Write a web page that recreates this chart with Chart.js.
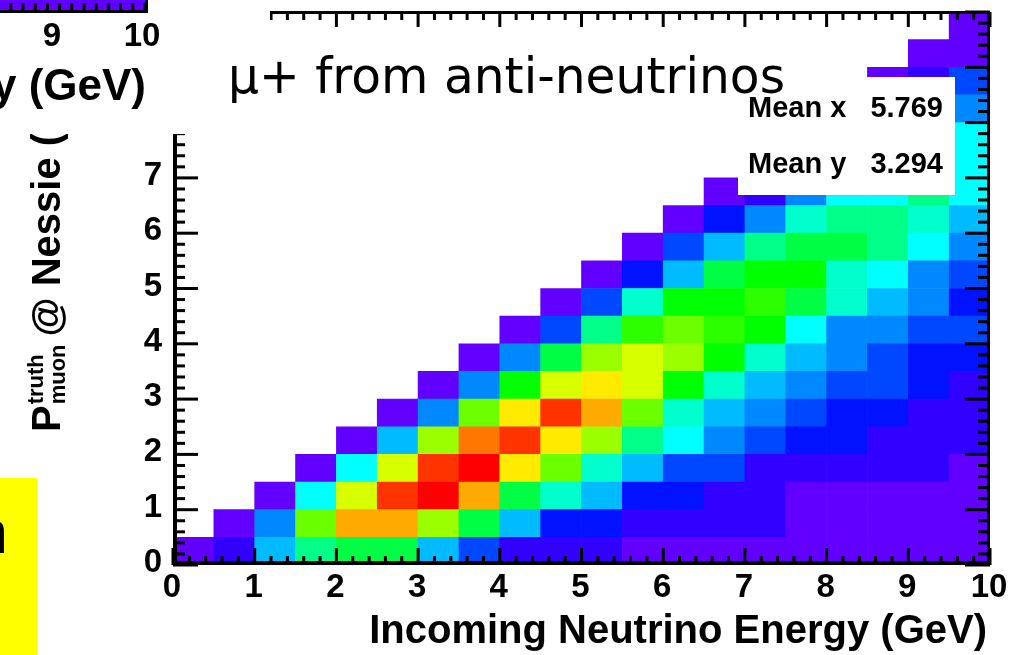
<!DOCTYPE html>
<html>
<head>
<meta charset="utf-8">
<title>P muon vs incoming neutrino energy</title>
<script src="https://cdn.jsdelivr.net/npm/chart.js@4.4.1/dist/chart.umd.min.js"></script>
<style>
  html, body { margin: 0; padding: 0; background: #fff; }
  #wrap { position: relative; width: 1023px; height: 655px; }
</style>
</head>
<body>
<div id="wrap"><canvas id="hist" width="1023" height="655"></canvas></div>
<script>
// bin lower edges, 0.5 GeV bins on both axes
const energyBins   = [0, 0.5, 1, 1.5, 2, 2.5, 3, 3.5, 4, 4.5, 5, 5.5, 6, 6.5, 7, 7.5, 8, 8.5, 9, 9.5];
const momentumBins = [0, 0.5, 1, 1.5, 2, 2.5, 3, 3.5, 4, 4.5, 5, 5.5, 6, 6.5, 7, 7.5, 8, 8.5, 9, 9.5];
const binWidth = 0.5;

// entries per energy bin, one array per muon momentum bin (arbitrary units)
const p0_0 = [1, 2, 6, 9, 10, 10, 6, 4, 2, 2, 2, 1, 1, 1, 1, 1, 1, 1, 1, 1];
const p0_5 = [0, 1, 5, 13, 17, 17, 14, 10, 6, 3, 3, 2, 2, 2, 2, 1, 1, 1, 1, 1];
const p1_0 = [0, 0, 1, 7, 15, 19, 20, 17, 10, 8, 6, 3, 3, 2, 2, 1, 1, 1, 1, 1];
const p1_5 = [0, 0, 0, 1, 7, 15, 19, 20, 16, 13, 8, 6, 4, 4, 2, 2, 2, 2, 2, 1];
const p2_0 = [0, 0, 0, 0, 1, 6, 14, 18, 19, 16, 14, 9, 7, 5, 4, 3, 3, 2, 2, 2];
const p2_5 = [0, 0, 0, 0, 0, 1, 5, 13, 16, 19, 17, 13, 8, 6, 5, 4, 3, 3, 2, 2];
const p3_0 = [0, 0, 0, 0, 0, 0, 1, 5, 11, 15, 16, 15, 11, 8, 6, 5, 4, 4, 3, 2];
const p3_5 = [0, 0, 0, 0, 0, 0, 0, 1, 5, 10, 14, 15, 14, 11, 8, 6, 5, 4, 3, 3];
const p4_0 = [0, 0, 0, 0, 0, 0, 0, 0, 1, 4, 9, 12, 13, 12, 11, 7, 5, 5, 4, 4];
const p4_5 = [0, 0, 0, 0, 0, 0, 0, 0, 0, 1, 4, 8, 11, 11, 12, 10, 8, 6, 5, 3];
const p5_0 = [0, 0, 0, 0, 0, 0, 0, 0, 0, 0, 1, 3, 6, 10, 11, 11, 8, 7, 5, 4];
const p5_5 = [0, 0, 0, 0, 0, 0, 0, 0, 0, 0, 0, 1, 4, 6, 9, 10, 10, 9, 7, 5];
const p6_0 = [0, 0, 0, 0, 0, 0, 0, 0, 0, 0, 0, 0, 1, 3, 5, 8, 9, 9, 8, 6];
const p6_5 = [0, 0, 0, 0, 0, 0, 0, 0, 0, 0, 0, 0, 0, 1, 2, 5, 7, 7, 9, 7];
const p7_0 = [0, 0, 0, 0, 0, 0, 0, 0, 0, 0, 0, 0, 0, 0, 1, 3, 5, 6, 7, 7];
const p7_5 = [0, 0, 0, 0, 0, 0, 0, 0, 0, 0, 0, 0, 0, 0, 0, 1, 3, 5, 6, 7];
const p8_0 = [0, 0, 0, 0, 0, 0, 0, 0, 0, 0, 0, 0, 0, 0, 0, 0, 1, 2, 4, 5];
const p8_5 = [0, 0, 0, 0, 0, 0, 0, 0, 0, 0, 0, 0, 0, 0, 0, 0, 0, 1, 2, 4];
const p9_0 = [0, 0, 0, 0, 0, 0, 0, 0, 0, 0, 0, 0, 0, 0, 0, 0, 0, 0, 1, 1];
const p9_5 = [0, 0, 0, 0, 0, 0, 0, 0, 0, 0, 0, 0, 0, 0, 0, 0, 0, 0, 0, 1];

// small profile markers near threshold
const markerE = [0.48, 0.56, 0.63, 0.69, 0.77, 0.84, 0.90];
const markerP = [0.25, 0.14, 0.25, 0.31, 0.33, 0.40, 0.42];

const xTickValues = [0, 1, 2, 3, 4, 5, 6, 7, 8, 9, 10];
const xTickLabels = ['0', '1', '2', '3', '4', '5', '6', '7', '8', '9', '10'];
const yTickValues = [0, 1, 2, 3, 4, 5, 6, 7, 8];
const yTickLabels = ['0', '1', '2', '3', '4', '5', '6', '7', '8'];

const statsNames  = ['Mean x', 'Mean y'];
const statsValues = ['5.769', '3.294'];

// colz palette, violet (low) to red (high)
const palette = ['#6200ff', '#3200ff', '#0012ff', '#0048ff', '#0088ff', '#00bbff', '#00ffff',
                 '#00ffcc', '#00ff88', '#00ff44', '#00ff00', '#2eff00', '#6cff00', '#9cff00',
                 '#d8ff00', '#ffea00', '#ffaa00', '#ff7700', '#ff3300', '#ff0000'];
const zMax = 20;

const rows = [p0_0, p0_5, p1_0, p1_5, p2_0, p2_5, p3_0, p3_5, p4_0, p4_5,
              p5_0, p5_5, p6_0, p6_5, p7_0, p7_5, p8_0, p8_5, p9_0, p9_5];

function cellColor(v) {
    const idx = Math.min(palette.length, Math.ceil(v / zMax * palette.length)) - 1;
    return palette[Math.max(0, idx)];
}

// each momentum row becomes a set of floating bars spanning its bin
const datasets = rows.map((counts, j) => ({
    label: 'p ' + momentumBins[j],
    data: counts
        .map((v, i) => ({ x: energyBins[i] + binWidth / 2, y: [momentumBins[j], momentumBins[j] + binWidth], v: v }))
        .filter(d => d.v > 0),
    backgroundColor: c => (c.raw ? cellColor(c.raw.v) : 'transparent'),
    borderWidth: 0,
    grouped: false,
    barPercentage: 1,
    categoryPercentage: 1
}));

datasets.push({
    type: 'scatter',
    label: 'profile',
    data: markerE.map((e, i) => ({ x: e, y: markerP[i] })),
    pointStyle: 'cross',
    pointRadius: 3,
    borderColor: '#000',
    backgroundColor: '#000',
    borderWidth: 1.5
});

const FONT = '"Liberation Sans", Arial, Helvetica, sans-serif';

// ROOT style frame, ticks, labels and the slide elements around the pad
const rootFrame = {
    id: 'rootFrame',
    afterDatasetsDraw(chart) {
        const { ctx, chartArea: a, scales: { x, y } } = chart;
        const w = a.right - a.left, h = a.bottom - a.top;
        ctx.save();
        ctx.fillStyle = '#000';

        // frame
        ctx.fillRect(a.left, a.top, 4, h);
        ctx.fillRect(a.left, a.bottom - 4, w, 4);
        ctx.fillRect(a.right - 3, a.top - 1, 3, h + 1);
        ctx.fillRect(a.left, a.top - 1, w, 3);

        // ticks every 0.2, major every 1
        for (let k = 0; k <= 50; k++) {
            const v = k / 5;
            const major = k % 5 === 0;
            const px = x.getPixelForValue(v);
            const py = y.getPixelForValue(v);
            const lx = major ? 17 : 9;
            const ly = major ? 25 : 12;
            ctx.fillRect(px - 1.5, a.bottom - lx, 3, lx);
            ctx.fillRect(px - 1.5, a.top, 3, major ? 15 : 8);
            ctx.fillRect(a.left, py - 1.5, ly, 3);
            ctx.fillRect(a.right - ly, py - 1.5, ly, 3);
        }

        // tick labels
        ctx.font = 'bold 33px ' + FONT;
        ctx.textAlign = 'center';
        ctx.textBaseline = 'alphabetic';
        xTickValues.forEach((v, i) => {
            ctx.fillText(xTickLabels[i], x.getPixelForValue(v) - 1, 597);
        });
        ctx.textAlign = 'right';
        ctx.textBaseline = 'middle';
        yTickValues.forEach((v, i) => {
            ctx.fillText(yTickLabels[i], 162, y.getPixelForValue(v) - 2);
        });

        // x title
        ctx.textBaseline = 'alphabetic';
        ctx.font = 'bold 40px ' + FONT;
        ctx.textAlign = 'right';
        ctx.fillText('Incoming Neutrino Energy (GeV)', 987, 643);

        // y title, rotated, with super/subscript
        ctx.save();
        ctx.translate(60, 432);
        ctx.rotate(-Math.PI / 2);
        ctx.textAlign = 'left';
        ctx.font = 'bold 40px ' + FONT;
        ctx.fillText('P', 0, 0);
        let cx = ctx.measureText('P').width + 1;
        ctx.font = 'bold 22px ' + FONT;
        ctx.fillText('truth', cx, -17);
        ctx.fillText('muon', cx, 5);
        cx += Math.max(ctx.measureText('truth').width, ctx.measureText('muon').width) + 8;
        ctx.font = 'bold 40px ' + FONT;
        ctx.fillText('@ Nessie (GeV)', cx, 0);
        ctx.restore();

        // neighbouring plot on the slide covers the upper left corner
        ctx.fillStyle = '#fff';
        ctx.fillRect(0, 0, 270, 134);
        ctx.fillStyle = '#6200ff';
        ctx.fillRect(0, 0, 146, 10);
        ctx.fillStyle = '#000';
        ctx.fillRect(0, 10, 148, 3);
        ctx.fillRect(145, 0, 3, 13);
        for (let tx = 145; tx > 0; tx -= 12.2) {
            ctx.fillRect(tx - 1.5, 3, 3, 8);
        }
        ctx.font = 'bold 33px ' + FONT;
        ctx.textAlign = 'center';
        ctx.fillText('9', 52, 46);
        ctx.fillText('10', 142, 46);
        ctx.font = 'bold 44px ' + FONT;
        ctx.textAlign = 'right';
        ctx.fillText('y (GeV)', 146, 100);

        // yellow text box at the left edge
        ctx.fillStyle = '#ffff00';
        ctx.fillRect(0, 478, 37, 177);
        ctx.fillStyle = '#000';
        ctx.font = '62px ' + FONT;
        ctx.textAlign = 'right';
        ctx.fillText('n', 8, 553);

        // statistics box
        ctx.fillStyle = '#fff';
        ctx.fillRect(738, 77, 217, 118);
        ctx.fillStyle = '#000';
        ctx.font = 'bold 29px ' + FONT;
        statsNames.forEach((name, i) => {
            const by = 117 + i * 56;
            ctx.textAlign = 'left';
            ctx.fillText(name, 748, by);
            ctx.textAlign = 'right';
            ctx.fillText(statsValues[i], 943, by);
        });

        // slide title
        ctx.font = '49px "DejaVu Sans", sans-serif';
        ctx.textAlign = 'left';
        ctx.fillText('\u03bc+ from anti-neutrinos', 228, 93, 557);

        ctx.restore();
    }
};

new Chart(document.getElementById('hist'), {
    type: 'bar',
    data: { datasets: datasets },
    options: {
        responsive: false,
        animation: false,
        devicePixelRatio: 1,
        layout: { padding: { left: 173, right: 33, top: 12, bottom: 90 } },
        plugins: { legend: { display: false }, tooltip: { enabled: false }, title: { display: false } },
        scales: {
            x: { type: 'linear', min: 0, max: 10, offset: false, display: false, ticks: { stepSize: 1 } },
            y: { type: 'linear', min: 0, max: 10, display: false, ticks: { stepSize: 1 } }
        }
    },
    plugins: [rootFrame]
});
</script>
</body>
</html>
